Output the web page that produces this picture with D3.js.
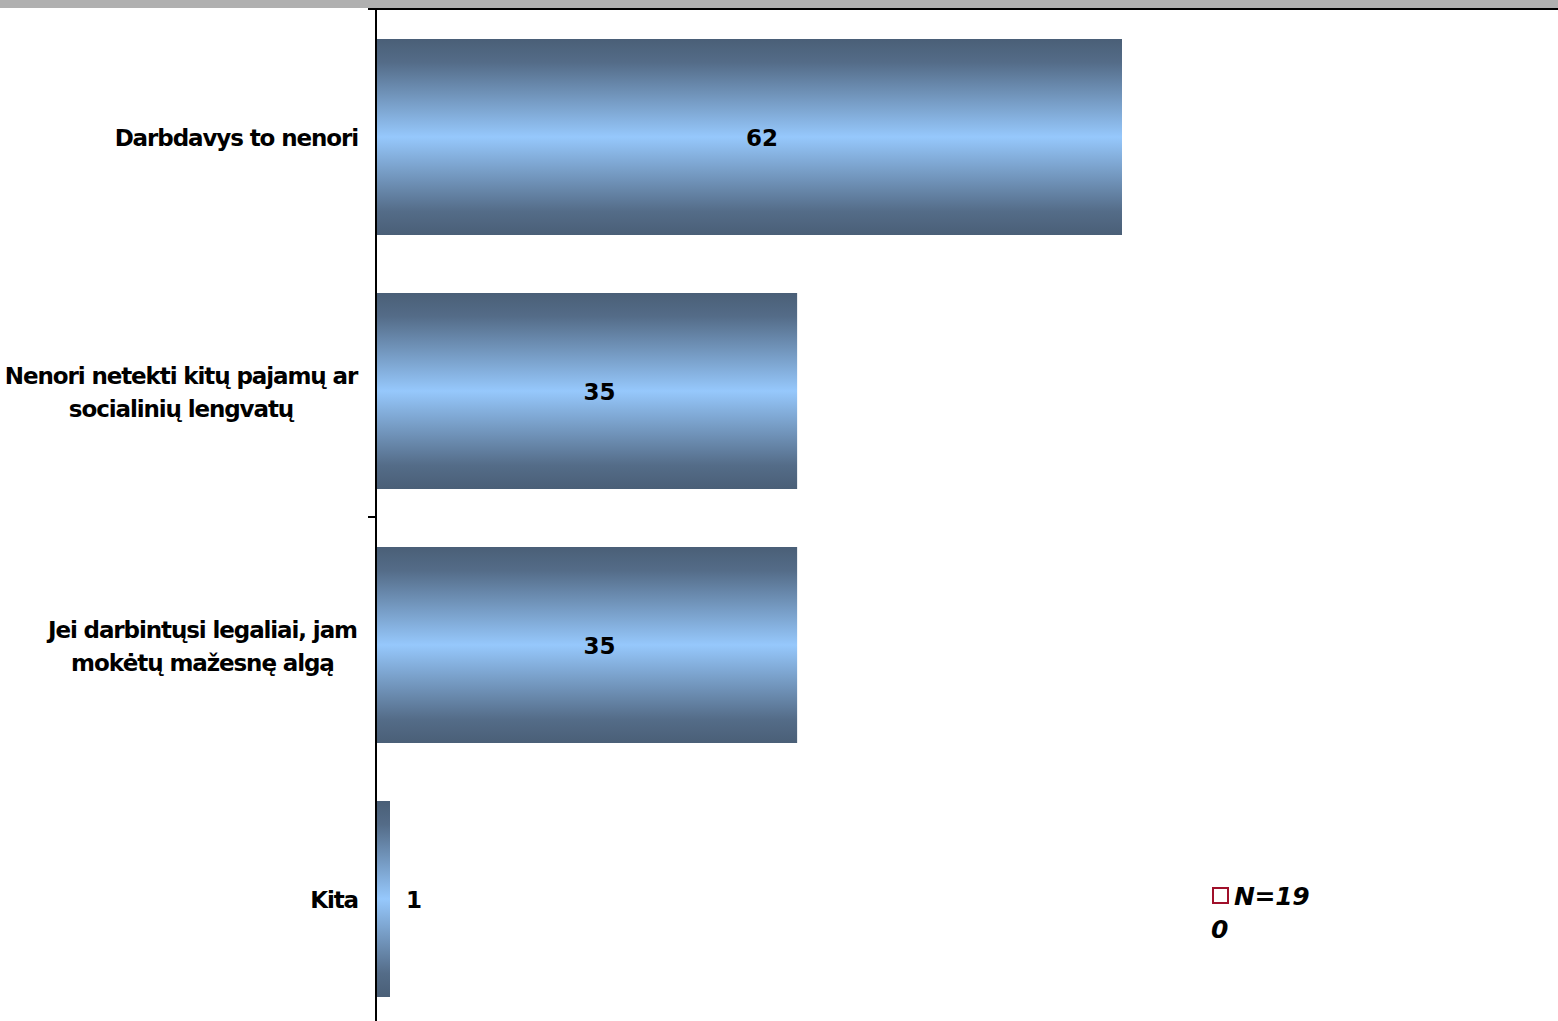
<!DOCTYPE html>
<html lang="lt">
<head>
    <meta charset="UTF-8">
    <title>D3</title>
    <script src="https://d3js.org/d3.v7.min.js"></script>
    <style>
        body { margin: 0; background: #fff; }
        text { font-family: "DejaVu Sans", Verdana, sans-serif; font-weight: bold; }
    </style>
</head>
<body>
    <script>
        // duomenys
        var categories = [
            ["Darbdavys to nenori"],
            ["Nenori netekti kitų pajamų ar", "socialinių lengvatų"],
            ["Jei darbintųsi legaliai, jam", "mokėtų mažesnę algą"],
            ["Kita"]
        ];
        var values = [62, 35, 35, 1];
        var legendLabel = ["N=19", "0"];

        (function(){
            var width = 1558, height = 1021;
            var axisX = 376, top = 10;

            var svg = d3.select("body").append("svg")
                .attr("width", width)
                .attr("height", height);

            var defs = svg.append("defs");
            var grad = defs.append("linearGradient")
                .attr("id", "barGrad")
                .attr("x1", 0).attr("y1", 0).attr("x2", 0).attr("y2", 1);
            grad.append("stop").attr("offset", "0%").attr("stop-color", "#4a5f77");
            grad.append("stop").attr("offset", "12%").attr("stop-color", "#546c88");
            grad.append("stop").attr("offset", "50%").attr("stop-color", "#96c8fc");
            grad.append("stop").attr("offset", "88%").attr("stop-color", "#546c88");
            grad.append("stop").attr("offset", "100%").attr("stop-color", "#4a5f77");

            // viršutinė pilka juosta
            svg.append("rect")
                .attr("x", 0).attr("y", 0)
                .attr("width", width).attr("height", 8)
                .attr("fill", "#b0b0b0");
            svg.append("line")
                .attr("x1", 368).attr("x2", width)
                .attr("y1", 9).attr("y2", 9)
                .attr("stroke", "#000").attr("stroke-width", 2);

            var x = d3.scaleLinear()
                .domain([0, 62])
                .range([axisX, 1122]);

            var y = d3.scaleBand()
                .domain(d3.range(values.length))
                .range([top, top + 254 * values.length])
                .paddingInner(58 / 254)
                .paddingOuter(29 / 254);

            svg.selectAll("rect.bar")
                .data(values)
                .enter()
                .append("rect")
                .attr("class", "bar")
                .attr("x", x(0))
                .attr("y", function(d, i){ return y(i); })
                .attr("width", function(d){ return Math.max(x(d) - x(0), 14); })
                .attr("height", y.bandwidth())
                .attr("fill", "url(#barGrad)");

            // reikšmės
            svg.selectAll("text.val")
                .data(values)
                .enter()
                .append("text")
                .attr("class", "val")
                .attr("x", function(d){
                    var w = x(d) - x(0);
                    return w > 60 ? x(0) + w / 2 + 13 : x(d) + 26;
                })
                .attr("y", function(d, i){ return y(i) + y.bandwidth() / 2 + 9; })
                .attr("text-anchor", "middle")
                .style("font-size", "23px")
                .text(function(d){ return d; });

            // kategorijos
            var cats = svg.selectAll("g.cat")
                .data(categories)
                .enter()
                .append("g")
                .attr("class", "cat");

            cats.each(function(lines, i){
                var g = d3.select(this);
                var cy = y(i) + y.bandwidth() / 2;
                var t = g.append("text")
                    .attr("text-anchor", "middle")
                    .style("font-size", "23px")
                    .style("letter-spacing", "-1.1px");
                lines.forEach(function(l, j){
                    t.append("tspan")
                        .attr("x", 0)
                        .attr("y", cy + 9 + (j - (lines.length - 1) / 2) * 33)
                        .text(l);
                });
                var bb = t.node().getBBox();
                t.attr("transform", "translate(" + (358 - bb.width / 2) + ",0)");
            });

            // ašis
            svg.append("line")
                .attr("x1", axisX).attr("x2", axisX)
                .attr("y1", 9).attr("y2", height)
                .attr("stroke", "#000").attr("stroke-width", 2);
            svg.append("line")
                .attr("x1", 368).attr("x2", axisX)
                .attr("y1", 517).attr("y2", 517)
                .attr("stroke", "#000").attr("stroke-width", 2);

            // legenda
            svg.append("rect")
                .attr("x", 1213).attr("y", 888)
                .attr("width", 15).attr("height", 15)
                .attr("fill", "#fff")
                .attr("stroke", "#a0102a").attr("stroke-width", 2);
            svg.append("text")
                .attr("x", 1234).attr("y", 905)
                .style("font-size", "25px")
                .style("font-style", "italic")
                .style("letter-spacing", "-0.3px")
                .text(legendLabel[0]);
            svg.append("text")
                .attr("x", 1211).attr("y", 938)
                .style("font-size", "25px")
                .style("font-style", "italic")
                .text(legendLabel[1]);
        })();
    </script>
</body>
</html>
